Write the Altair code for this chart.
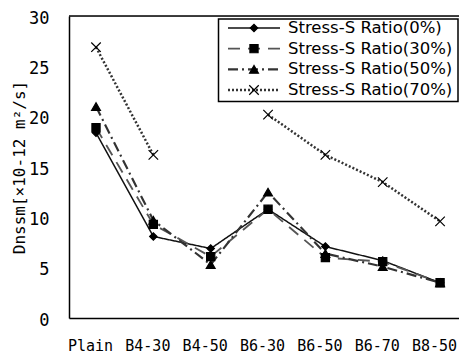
import altair as alt
import pandas as pd

categories = ["Plain", "B4-30", "B4-50", "B6-30", "B6-50", "B6-70", "B8-50"]
series = ["Stress-S Ratio(0%)", "Stress-S Ratio(30%)", "Stress-S Ratio(50%)", "Stress-S Ratio(70%)"]
r0 = [18.4, 8.1, 6.9, 10.8, 7.1, 5.7, 3.5]
r30 = [18.9, 9.3, 6.1, 10.8, 6.0, 5.6, 3.5]
r50 = [21.0, 9.7, 5.3, 12.5, 6.4, 5.1, 3.5]
r70 = [26.9, 16.2, None, 20.2, 16.2, 13.5, 9.6]

rows = []
for name, vals in zip(series, [r0, r30, r50, r70]):
    seg = 0
    for i, v in enumerate(vals):
        if v is None:
            seg += 1
            continue
        rows.append({"series": name, "idx": i, "cat": categories[i], "value": v, "seg": f"{name}-{seg}"})
df = pd.DataFrame(rows)
leg_df = pd.DataFrame({"series": series, "row": list(range(len(series)))})

W, H = 390, 302
label_expr = "[" + ",".join(f"'{c}'" for c in categories) + "][datum.value]"

x_enc = alt.X("idx:Q", scale=alt.Scale(domain=[-0.471, 6.33], nice=False, zero=False),
              axis=alt.Axis(values=list(range(len(categories))), labelExpr=label_expr, title=None,
                            ticks=False, grid=False, labelFont="DejaVu Sans Mono", labelFontSize=15,
                            labelPadding=20, labelOffset=-6, labelAngle=0, labelColor="black",
                            domainColor="black", domainWidth=1.5))
y_enc = alt.Y("value:Q", scale=alt.Scale(domain=[0, 30], nice=False),
              axis=alt.Axis(values=[0, 5, 10, 15, 20, 25, 30], title="Dnssm[×10-12 m²/s]",
                            ticks=False, grid=False, labelFont="DejaVu Sans Mono", labelFontSize=17,
                            labelPadding=20, labelOffset=2, labelColor="black", domainColor="black",
                            domainWidth=1.5, titleFont="DejaVu Sans Mono", titleFontSize=16,
                            titleFontWeight="normal", titleColor="black", titleX=-42, titleY=151))

dash_scale = alt.Scale(domain=series, range=[[1, 0], [12, 8], [10, 4, 2, 4], [2, 2]])
color_scale = alt.Scale(domain=series, range=["#111", "#555", "#333", "#333"])
width_scale = alt.Scale(domain=series, range=[1.5, 2.5, 1.5, 2])
xpath = "M-1,-1L1,1M-1,1L1,-1"
shape_scale = alt.Scale(domain=series, range=["diamond", "square", "triangle-up", xpath])
size_scale = alt.Scale(domain=series, range=[55, 90, 80, 55])

lines = alt.Chart(df).mark_line().encode(
    x=x_enc, y=y_enc, detail="seg:N",
    strokeDash=alt.StrokeDash("series:N", scale=dash_scale, legend=None),
    color=alt.Color("series:N", scale=color_scale, legend=None),
    strokeWidth=alt.StrokeWidth("series:N", scale=width_scale, legend=None),
)
points = alt.Chart(df).mark_point(filled=True, color="black", stroke="black", strokeWidth=1.2, opacity=1).encode(
    x="idx:Q", y="value:Q",
    shape=alt.Shape("series:N", scale=shape_scale, legend=None),
    size=alt.Size("series:N", scale=size_scale, legend=None),
)
top = alt.Chart(pd.DataFrame({"a": [0]})).mark_rule(color="black", strokeWidth=1.5).encode(
    y=alt.value(0), x=alt.value(0), x2=alt.value(W))

main = alt.layer(lines, points, top)

# legend (box, line samples, markers, labels) built from the series list
row_y = alt.Y("row:Q", scale=alt.Scale(domain=[0, 3], range=[12, 74]), axis=None)
leg_box = alt.Chart(pd.DataFrame({"a": [0]})).mark_rect(fill="white", stroke="black", strokeWidth=1.5).encode(
    x=alt.value(149.5), x2=alt.value(389), y=alt.value(3), y2=alt.value(85.5))
leg_lines = alt.Chart(leg_df).mark_rule().encode(
    x=alt.value(159), x2=alt.value(211), y=row_y,
    strokeDash=alt.StrokeDash("series:N", scale=dash_scale, legend=None),
    color=alt.Color("series:N", scale=color_scale, legend=None),
    strokeWidth=alt.StrokeWidth("series:N", scale=width_scale, legend=None),
)
leg_pts = alt.Chart(leg_df).mark_point(filled=True, color="black", stroke="black", strokeWidth=1.2, opacity=1).encode(
    x=alt.value(185), y="row:Q",
    shape=alt.Shape("series:N", scale=shape_scale, legend=None),
    size=alt.Size("series:N", scale=size_scale, legend=None),
)
leg_text = alt.Chart(leg_df).mark_text(align="left", baseline="middle", font="DejaVu Sans",
                                       fontSize=16.5, color="black").encode(
    x=alt.value(219), y="row:Q", text="series:N")
legend = alt.layer(leg_box, leg_lines, leg_pts, leg_text)

chart = alt.layer(main, legend).resolve_scale(y="independent").properties(
    width=W, height=H,
    autosize=alt.AutoSizeParams(type="none"),
    padding={"left": 61, "top": 8, "right": 0, "bottom": 40},
).configure_view(stroke=None).configure(background="white")

chart.save("out.html", embed_options={"renderer": "svg", "actions": False})
